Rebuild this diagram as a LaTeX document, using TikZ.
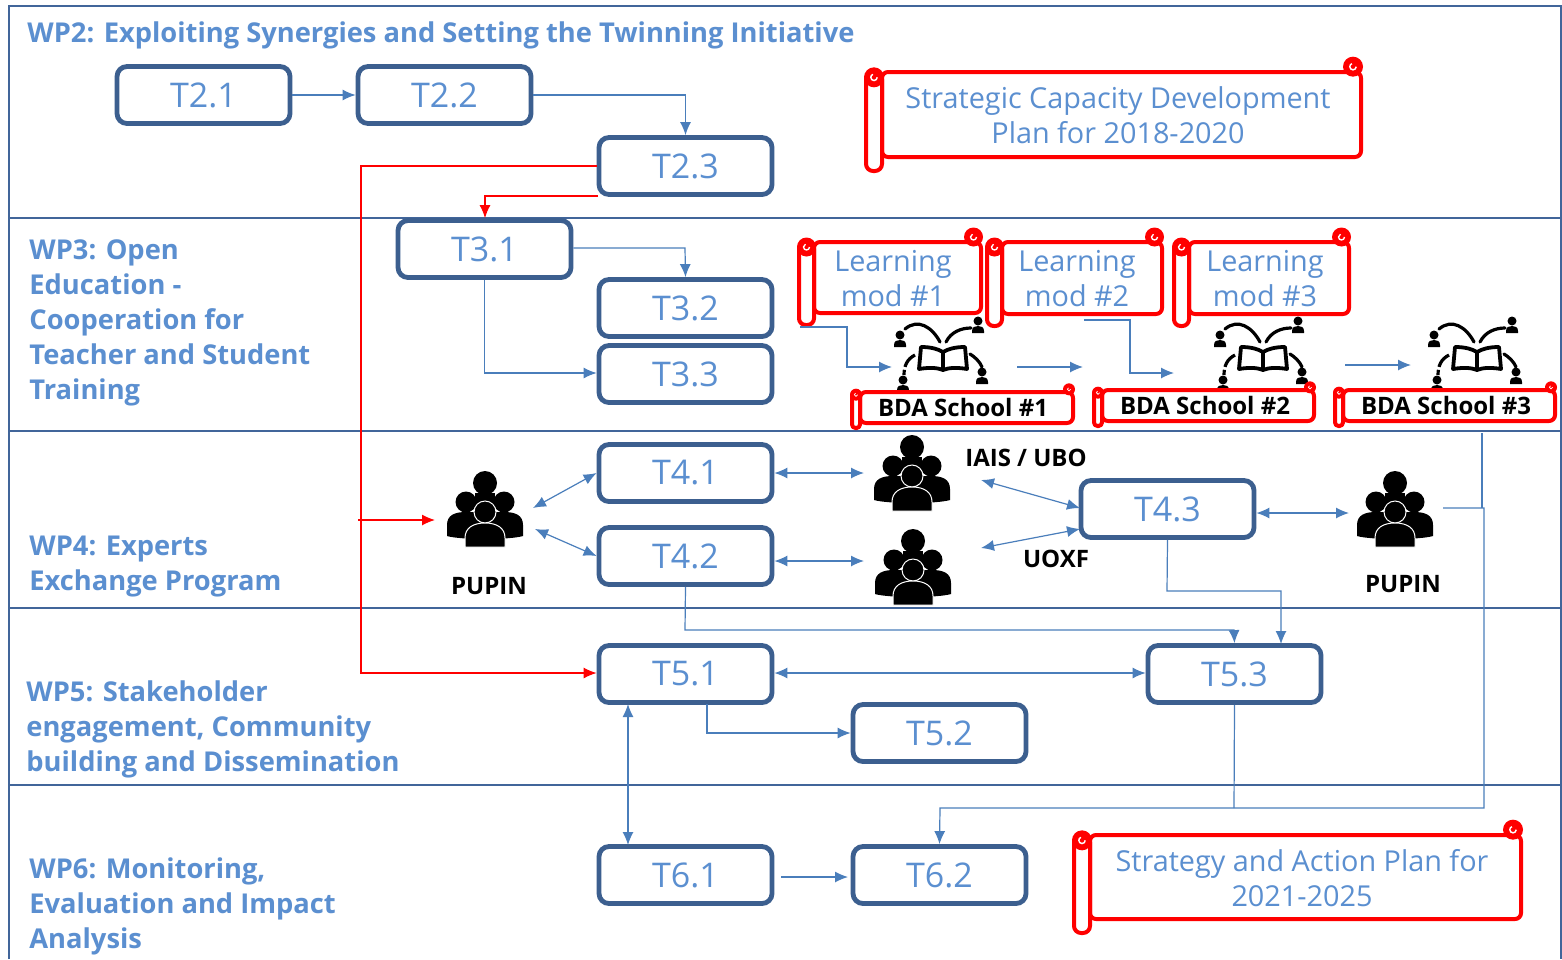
\documentclass[tikz,border=0pt]{standalone}
\usepackage{fontspec}
\setmainfont{Open Sans}
\usetikzlibrary{arrows.meta}
\definecolor{frameblue}{HTML}{41659A}
\definecolor{boxblue}{HTML}{3C5F8F}
\definecolor{textblue}{HTML}{5B8FD0}
\definecolor{arrowblue}{HTML}{4A7EBB}
\definecolor{scrollred}{HTML}{FF0000}
\tikzset{
  frameline/.style={draw=frameblue,line width=1.2pt},
  taskbox/.style={draw=boxblue,line width=2.4pt,rounded corners=5pt,fill=white,minimum width=86.5pt,minimum height=28.5pt,text=textblue,font=\fontsize{17}{18}\selectfont,inner sep=0pt},
  wptitle/.style={anchor=west,align=left,text=textblue,font=\fontsize{13.65}{17.5}\selectfont\bfseries,inner sep=0pt},
  scrolltext/.style={align=center,text=textblue,font=\fontsize{14.4}{17.5}\selectfont,inner sep=0pt},
  blacklabel/.style={text=black,font=\fontsize{12}{13}\selectfont\bfseries,inner sep=0pt},
  flow/.style={draw=arrowblue,line width=.6pt,-{Latex[length=6.5pt,width=5.5pt]}},
  bothflow/.style={draw=arrowblue,line width=.6pt,{Latex[length=6.5pt,width=5.5pt]}-{Latex[length=6.5pt,width=5.5pt]}},
  plainflow/.style={draw=arrowblue,line width=.6pt},
  redflow/.style={draw=scrollred,line width=.6pt,-{Latex[length=6.5pt,width=5.5pt]}},
  scrollline/.style={draw=scrollred,line width=2pt,fill=white,line join=round},
}
% #1 x0 #2 y0 #3 x1 #4 y1 #5 roll width #6 roll overhang
\newcommand{\wpscroll}[6]{%
  \pgfmathsetmacro{\sa}{#1+#5}\pgfmathsetmacro{\sb}{#1+#5/2}%
  \pgfmathsetmacro{\sc}{#3-#5/2}\pgfmathsetmacro{\sd}{#2-#5/3}%
  \pgfmathsetmacro{\se}{#4+#6}\pgfmathsetmacro{\sf}{#5/2+2}\pgfmathsetmacro{\sg}{#2+#5/3}%
  \pgfmathsetmacro{\sh}{#5*0.22}\pgfmathsetmacro{\si}{#5/5}\pgfmathsetmacro{\sj}{#5*0.045}%
  \pgfmathsetmacro{\sk}{\sb+\si}\pgfmathsetmacro{\sl}{\sc+\si}%
  \path[scrollline,rounded corners=3pt] (\sa,#2) -- (#3,#2) -- (#3,#4) -- (\sa,#4) -- cycle;
  \path[scrollline,rounded corners=\sh pt] (#1,#2) -- (\sa,#2) -- (\sa,\se) -- (#1,\se) -- cycle;
  \fill[scrollred] (\sb,\sg) circle (\sf);
  \fill[scrollred] (\sc,\sd) circle (\sf);
  \draw[white,line width=\sj pt] (\sk,\sg) arc[start angle=0,end angle=250,radius=\si];
  \draw[white,line width=\sj pt] (\sl,\sd) arc[start angle=0,end angle=250,radius=\si];
}
\newcommand{\wppeople}[2]{%
  \begin{scope}[shift={(#1,#2)}]
    \fill[black] (0,-26) circle (12);
    \fill[black] (-10,-16) rectangle (10,2);
    \fill[black] (-19,-7) circle (10.5);
    \fill[black] (19,-7) circle (10.5);
    \fill[black] (-38,27) -- (-38,16) .. controls (-38,6) and (-30,3) .. (-19,3) -- (19,3) .. controls (30,3) and (38,6) .. (38,16) -- (38,27) .. controls (25,31) and (-25,31) .. (-38,27) -- cycle;
    \filldraw[fill=black,draw=white,line width=.5pt] (0,3) circle (11);
    \filldraw[fill=black,draw=white,line width=.5pt] (-20,38) -- (-20,29) .. controls (-20,19) and (-12,14) .. (0,14) .. controls (12,14) and (20,19) .. (20,29) -- (20,38) -- cycle;
  \end{scope}}
\newcommand{\wpsmallperson}[2]{%
  \fill[black] (#1,#2) circle (4.5);
  \fill[black] (#1-6,#2+12) -- (#1-6,#2+10) .. controls (#1-6,#2+6) and (#1-3,#2+5) .. (#1,#2+5) .. controls (#1+3,#2+5) and (#1+6,#2+6) .. (#1+6,#2+10) -- (#1+6,#2+12) -- cycle;}
\newcommand{\wpbook}[2]{%
  \begin{scope}[shift={(#1,#2)}]
    \draw[black,line width=1.9pt,line join=round] (-22,-11) .. controls (-12,-11) and (-5,-9) .. (0,-6) .. controls (5,-9) and (12,-11) .. (22,-11) -- (24,11) .. controls (12,9) and (5,10) .. (0,12) .. controls (-5,10) and (-12,9) .. (-24,11) -- cycle;
    \draw[black,line width=1.9pt] (0,-6) -- (0,12);
    \draw[black,line width=1.6pt,line cap=round] (-3,-16) .. controls (-11,-31) and (-25,-40) .. (-38,-29);
    \draw[black,line width=1.6pt,line cap=round] (3,-16) .. controls (8,-26) and (18,-30) .. (28,-30);
    \draw[black,line width=1.6pt,dash pattern=on 8pt off 1.5pt] (-28,-3) .. controls (-36,1) and (-39,8) .. (-39,17);
    \draw[black,line width=1.6pt,line cap=round] (27,-4) .. controls (32,-1) and (37,4) .. (39,9);
    \wpsmallperson{-43}{-23}
    \wpsmallperson{35}{-37}
    \wpsmallperson{39}{14}
    \wpsmallperson{-40}{22}
  \end{scope}}
\begin{document}
\begin{tikzpicture}[x=.5pt,y=-.5pt]
\useasboundingbox (0,0) rectangle (1562,959);
\fill[white] (0,0) rectangle (1562,959);
% frame
\coordinate (fa) at (9,6); \coordinate (fb) at (1561,6); \coordinate (fc) at (9,959);
\path[frameline] (fc) -- (fa) -- (fb) -- (1561,959);
\foreach \yy in {218,431,608,785}{\path[frameline] (9,\yy) -- (1561,\yy);}
% titles
\node[wptitle] (wp2) at (27,35) {WP2: Exploiting Synergies and Setting the Twinning Initiative};
\node[wptitle] (wp3) at (29,323) {WP3: Open\\Education -\\Cooperation for\\Teacher and Student\\Training};
\node[wptitle] (wp4) at (29,567) {WP4: Experts\\Exchange Program};
\node[wptitle] (wp5) at (26,729) {WP5: Stakeholder\\engagement, Community\\building and Dissemination};
\node[wptitle] (wp6) at (29,906) {WP6: Monitoring,\\Evaluation and Impact\\Analysis};
% tasks
\node[taskbox] (T21) at (203.5,95) {T2.1};
\node[taskbox] (T22) at (444.5,95) {T2.2};
\node[taskbox] (T23) at (685.5,166) {T2.3};
\node[taskbox] (T31) at (484.5,249) {T3.1};
\node[taskbox] (T32) at (685.5,308) {T3.2};
\node[taskbox] (T33) at (685.5,374) {T3.3};
\node[taskbox] (T41) at (685.5,473) {T4.1};
\node[taskbox] (T42) at (685.5,556) {T4.2};
\node[taskbox] (T43) at (1167.5,509) {T4.3};
\node[taskbox] (T51) at (685.5,674) {T5.1};
\node[taskbox] (T52) at (939.5,733) {T5.2};
\node[taskbox] (T53) at (1234.5,674) {T5.3};
\node[taskbox] (T61) at (685.5,875) {T6.1};
\node[taskbox] (T62) at (939.5,875) {T6.2};
% icons
\wpbook{943}{358}
\wpbook{1263}{358}
\wpbook{1477}{358}
\wppeople{485}{509}
\wppeople{912}{473}
\wppeople{913}{567}
\wppeople{1395}{509}
% scrolls
\wpscroll{866}{72}{1361}{157}{16}{14}
\wpscroll{799}{242}{981}{313}{15}{12}
\wpscroll{987}{242}{1162}{314}{15}{12}
\wpscroll{1174}{242}{1349}{314}{15}{12}
\wpscroll{852}{392}{1073}{423}{8}{5}
\wpscroll{1094}{390}{1314}{421}{8}{5}
\wpscroll{1335}{390}{1555}{421}{8}{5}
\wpscroll{1074}{835}{1521}{919}{16}{14}
\node[scrolltext] (s1) at (1118,115) {Strategic Capacity Development\\Plan for 2018-2020};
\node[scrolltext] (l1) at (893,279) {Learning\\mod \#1};
\node[scrolltext] (l2) at (1077,279) {Learning\\mod \#2};
\node[scrolltext] (l3) at (1265,279) {Learning\\mod \#3};
\node[scrolltext] (s2) at (1302,878) {Strategy and Action Plan for\\2021-2025};
\node[blacklabel] (b1) at (963,407) {BDA School \#1};
\node[blacklabel] (b2) at (1205,405) {BDA School \#2};
\node[blacklabel] (b3) at (1446,405) {BDA School \#3};
\node[blacklabel] (lp1) at (489,586) {PUPIN};
\node[blacklabel] (lp2) at (1403,584) {PUPIN};
\node[blacklabel] (li) at (1026,458) {IAIS / UBO};
\node[blacklabel] (lu) at (1056,559) {UOXF};
% free ends
\coordinate (p1a) at (533,508);
\coordinate (p1b) at (535,529);
\coordinate (p1r) at (435,520);
\coordinate (redl) at (358,520);
\coordinate (p2a) at (864,473);
\coordinate (p3a) at (864,561);
\coordinate (p2b) at (981,480);
\coordinate (p3b) at (981,548);
\coordinate (q1) at (1080,508);
\coordinate (q2) at (1080,529);
\coordinate (p4a) at (1349,513);
\coordinate (p4b) at (1443,508);
\coordinate (lm1) at (800,327);
\coordinate (sc1) at (892,367);
\coordinate (sc1b) at (1017,367);
\coordinate (sc2) at (1083,367);
\coordinate (lm2) at (1084,320);
\coordinate (sc3) at (1174,373);
\coordinate (sc3b) at (1345,365);
\coordinate (sc4) at (1411,365);
\coordinate (s3b) at (1482,433);
\coordinate (t61e) at (781,877);
\coordinate (t62w) at (848,877);
% connectors
\draw[flow] (T21.east) -- (T22.west);
\draw[flow] (T22.east) -| (T23.north);
\draw[redflow] (T23.west) -- (361,166) -- (361,673) -- (T51.west |- 0,673);
\draw[redflow] (598,196) -- (485,196) -- (T31.north -| 485,0);
\draw[redflow] (redl) -- (p1r);
\draw[flow] (T31.east |- 0,248) -- (685,248) -- (T32.north);
\draw[flow] (T31.south) |- (T33.west |- 0,373);
\draw[bothflow] (T41.west) -- (p1a);
\draw[bothflow] (T42.west) -- (p1b);
\draw[bothflow] (T41.east) -- (p2a);
\draw[bothflow] (T42.east |- p3a) -- (p3a);
\draw[bothflow] (p2b) -- (q1);
\draw[bothflow] (p3b) -- (q2);
\draw[bothflow] (T43.east |- p4a) -- (p4a);
\draw[flow] (T43.south) -- (1167,591) -- (1281,591) -- (1281,644);
\draw[flow] (T42.south) -- (685,630) -- (1234,630) -- (T53.north);
\draw[bothflow] (T51.east |- 0,673) -- (T53.west |- 0,673);
\draw[flow] (707,704) -- (707,733) -- (T52.west);
\draw[bothflow] (628,704) -- (628,845);
\draw[flow] (t61e) -- (t62w);
\draw[plainflow] (T53.south) -- (1234,808);
\draw[plainflow] (s3b) -- (1482,508);
\draw[flow] (p4b) -- (1484,508) -- (1484,808) -- (940,808) -- (T62.north);
\draw[flow] (lm1) -- (847,327) -- (847,367) -- (sc1);
\draw[flow] (sc1b) -- (sc2);
\draw[flow] (lm2) -- (1130,320) -- (1130,373) -- (sc3);
\draw[flow] (sc3b) -- (sc4);
\end{tikzpicture}
\end{document}
